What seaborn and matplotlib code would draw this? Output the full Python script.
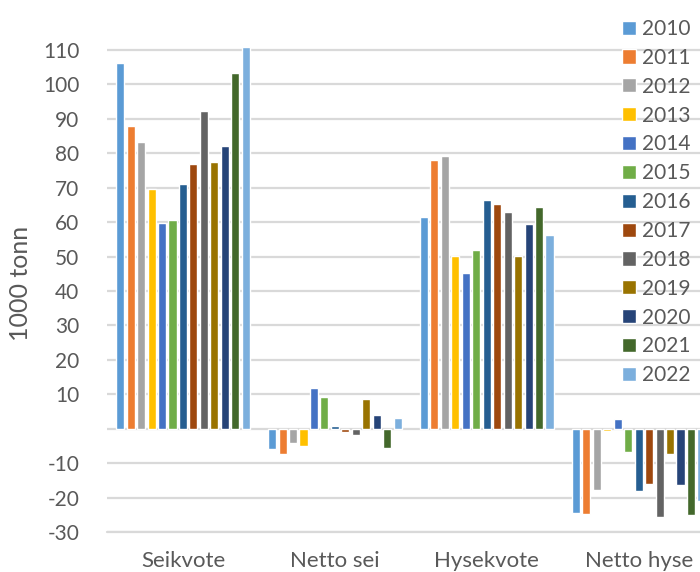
import matplotlib
matplotlib.use("Agg")
import matplotlib.pyplot as plt
import seaborn as sns
import pandas as pd

# Categories on the x axis
categories = ["Seikvote", "Netto sei", "Hysekvote", "Netto hyse"]
years = ["2010", "2011", "2012", "2013", "2014", "2015", "2016",
         "2017", "2018", "2019", "2020", "2021", "2022"]

# Values in 1000 tonn, one list per category (ordered by year)
seikvote = [106.1, 88.0, 83.3, 69.7, 59.7, 60.6, 71.2, 76.9, 92.3, 77.5, 82.2, 103.3, 110.8]
netto_sei = [-6.0, -7.4, -4.2, -5.0, 11.9, 9.2, 0.9, -1.1, -1.9, 8.5, 4.0, -5.5, 3.2]
hysekvote = [61.5, 78.0, 79.3, 50.2, 45.1, 51.9, 66.5, 65.2, 62.9, 50.2, 59.5, 64.4, 56.2]
netto_hyse = [-24.4, -24.8, -17.7, -0.7, 2.7, -6.8, -18.0, -16.0, -25.7, -7.3, -16.4, -25.2, -21.1]

yticks = [-30, -20, -10, 10, 20, 30, 40, 50, 60, 70, 80, 90, 100, 110]

colors = ["#5B9BD5", "#ED7D31", "#A5A5A5", "#FFC000", "#4472C4", "#70AD47",
          "#255E91", "#9E480E", "#636363", "#997300", "#264478", "#43682B",
          "#7CAFDD"]

rows = []
for cat, vals in zip(categories, [seikvote, netto_sei, hysekvote, netto_hyse]):
    for yr, v in zip(years, vals):
        rows.append({"kategori": cat, "år": yr, "verdi": v})
df = pd.DataFrame(rows)

sns.set_theme(style="white")
plt.rcParams["font.family"] = ["Lato", "DejaVu Sans"]
text_color = "#595959"
grid_color = "#D9D9D9"

fig = plt.figure(figsize=(7.0, 5.72), dpi=100)
# the plot area runs past the right edge of the figure
ax = fig.add_axes([107 / 700, 1 - 532 / 572, 607.6 / 700, (532 - 43) / 572])

sns.barplot(data=df, x="kategori", y="verdi", hue="år", order=categories,
            hue_order=years, palette=colors, width=0.895, gap=0.23,
            saturation=1, errorbar=None, ax=ax, zorder=3)

ax.set_ylim(-30, 112)
ax.set_xlim(-0.5, 3.5)
ax.set_yticks(yticks)
ax.set_yticklabels([str(t) for t in yticks])
ax.yaxis.grid(True, color=grid_color, linewidth=1.6, zorder=0)
ax.axhline(0, color=grid_color, linewidth=1.6, zorder=1)
ax.axhline(-30, color=grid_color, linewidth=1.6, zorder=1, clip_on=False)
for s in ax.spines.values():
    s.set_visible(False)

ax.tick_params(axis="y", length=0, pad=20, labelsize=15, labelcolor=text_color)
ax.tick_params(axis="x", length=0, pad=14, labelsize=16, labelcolor=text_color)
ax.set_xlabel("")
ax.set_ylabel("1000 tonn", fontsize=18, color=text_color)
ax.yaxis.set_label_coords(-0.123, 0.509)

handles, labels = ax.get_legend_handles_labels()
ax.legend_.remove()
fig.legend(handles, labels, loc="upper left", bbox_to_anchor=(622 / 700, 1 - 19 / 572),
           frameon=False, fontsize=15, labelcolor=text_color,
           handlelength=0.67, handleheight=0.67, handletextpad=0.3,
           labelspacing=0.425, borderaxespad=0, borderpad=0)

fig.savefig("out.png", dpi=100)
